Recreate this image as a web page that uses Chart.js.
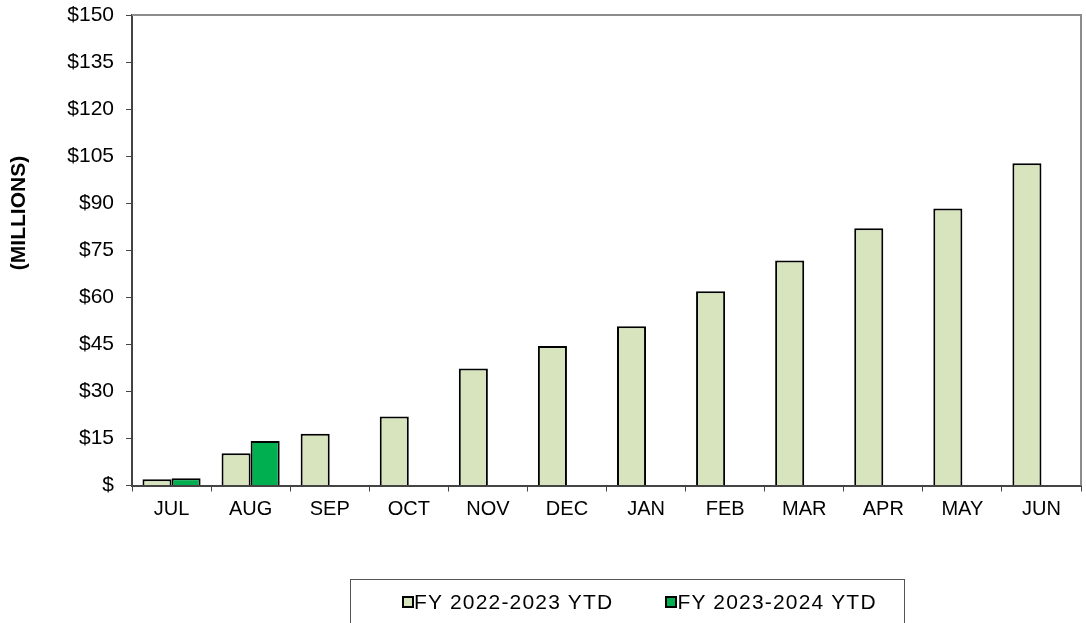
<!DOCTYPE html>
<html>
<head>
<meta charset="utf-8">
<script src="https://cdn.jsdelivr.net/npm/chart.js@4"></script>
<style>
  html,body{margin:0;padding:0;background:#fff}
  #wrap{position:relative;width:1086px;height:623px;overflow:hidden}
  #legend{position:absolute;left:350px;top:579px;width:555px;height:60px;border:1.5px solid #555;box-sizing:border-box;
    display:flex;justify-content:flex-start;gap:52px;padding:10px 0 0 51px;font:21px "Liberation Sans",Arial,sans-serif;letter-spacing:1.2px;color:#000}
  .item{display:flex;align-items:center;height:24px}
  .sw{width:8px;height:8px;border:2px solid #000;margin-right:0}
</style>
</head>
<body>
<div id="wrap">
  <canvas id="c" width="1086" height="623"></canvas>
  <div id="legend"></div>
</div>
<script>
const months = ["JUL","AUG","SEP","OCT","NOV","DEC","JAN","FEB","MAR","APR","MAY","JUN"];
const fy2223 = [2.0, 10.3, 16.5, 22.0, 37.3, 44.5, 50.8, 61.9, 71.7, 82.0, 88.3, 102.7];
const fy2324 = [2.3, 14.2, null, null, null, null, null, null, null, null, null, null];
const seriesNames = ["FY 2022-2023 YTD", "FY 2023-2024 YTD"];
const seriesColors = ["#D7E4BD", "#00B050"];

const font = "'Liberation Sans', Arial, sans-serif";

const frame = {
  id: "frame",
  afterDraw(chart){
    const {ctx, chartArea:a} = chart;
    ctx.save();
    ctx.strokeStyle = "#8c8c8c";
    ctx.lineWidth = 2;
    ctx.beginPath();
    ctx.moveTo(a.left, a.top);
    ctx.lineTo(a.right, a.top);
    ctx.lineTo(a.right, a.bottom);
    ctx.stroke();
    ctx.translate(19, 213);
    ctx.rotate(-Math.PI/2);
    ctx.font = "bold 21px " + font;
    ctx.fillStyle = "#000";
    ctx.textAlign = "center";
    ctx.textBaseline = "middle";
    ctx.fillText("(MILLIONS)", 0, 0);
    ctx.restore();
  }
};

const chart = new Chart(document.getElementById("c"), {
  type: "bar",
  data: {
    labels: months,
    datasets: [
      {label: seriesNames[0], data: fy2223, backgroundColor: seriesColors[0], borderColor: "#000", borderWidth: 2},
      {label: seriesNames[1], data: fy2324, backgroundColor: seriesColors[1], borderColor: "#000", borderWidth: 2}
    ]
  },
  options: {
    responsive: false,
    animation: false,
    layout: {padding: {top: 15, right: 5, left: 0, bottom: 0}},
    datasets: {bar: {categoryPercentage: 0.735, barPercentage: 1.0}},
    plugins: {legend: {display: false}, tooltip: {enabled: false}},
    scales: {
      x: {
        grid: {drawOnChartArea: false, drawTicks: true, tickLength: 6, color: "#444", offset: true},
        border: {color: "#444", width: 2},
        ticks: {color: "#000", font: {family: font, size: 20}, padding: 6},
        afterFit(s){ s.height = 137.5; s.paddingLeft = 0; s.paddingRight = 0; }
      },
      y: {
        min: 0, max: 150,
        grid: {drawOnChartArea: false, drawTicks: true, tickLength: 6, color: "#444"},
        border: {color: "#444", width: 2},
        ticks: {stepSize: 15, color: "#000", font: {family: font, size: 21}, padding: 12,
          callback: v => v === 0 ? "$" : "$" + v},
        afterFit(s){ s.width = 132; s.paddingTop = 0; s.paddingBottom = 0; }
      }
    }
  },
  plugins: [frame]
});

document.getElementById("legend").innerHTML = chart.data.datasets.map(d =>
  `<div class="item"><span class="sw" style="background:${d.backgroundColor}"></span>${d.label}</div>`).join("");
</script>
</body>
</html>
